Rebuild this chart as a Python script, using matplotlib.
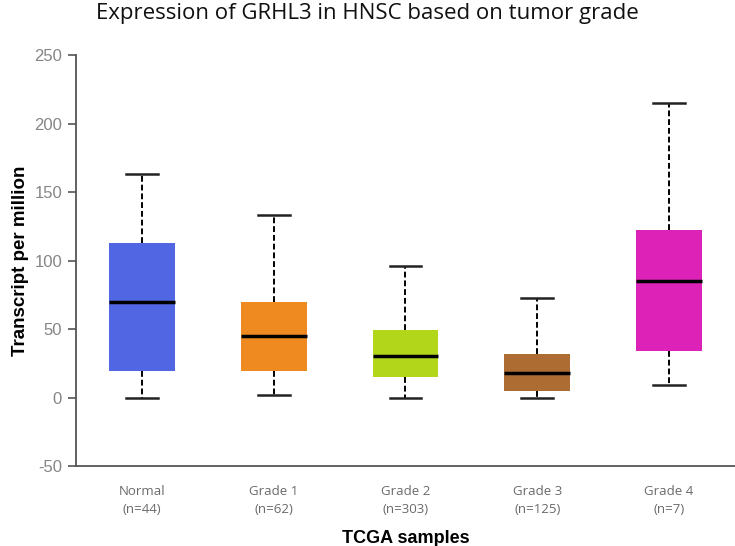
import matplotlib
matplotlib.use('Agg')
import matplotlib.pyplot as plt

plt.rcParams['axes.unicode_minus'] = False

groups = ['Normal', 'Grade 1', 'Grade 2', 'Grade 3', 'Grade 4']
counts = [44, 62, 303, 125, 7]
whislo = [0, 2, 0, 0, 9]
q1 = [19, 19, 15, 5, 34]
med = [70, 45, 30, 18, 85]
q3 = [113, 70, 49, 32, 122]
whishi = [163, 133, 96, 73, 215]
colors = ['#5166e2', '#ee8a1f', '#b1d61a', '#ad6c32', '#dd23b7']

stats = []
for i, g in enumerate(groups):
    stats.append({'label': '%s\n(n=%d)' % (g, counts[i]),
                  'whislo': whislo[i], 'q1': q1[i], 'med': med[i],
                  'q3': q3[i], 'whishi': whishi[i], 'fliers': []})

fig = plt.figure(figsize=(7.35, 5.46), dpi=100)
ax = fig.add_axes([0.1034, 0.1465, 0.8966, 0.7527])

bp = ax.bxp(stats, positions=range(1, 6), widths=0.5, patch_artist=True,
            showfliers=False, capwidths=0.24,
            boxprops=dict(linewidth=0),
            medianprops=dict(color='black', linewidth=2.5),
            whiskerprops=dict(color='black', linewidth=1.4, linestyle=(0, (3, 1.5))),
            capprops=dict(color='#222222', linewidth=1.8))
for patch, c in zip(bp['boxes'], colors):
    patch.set_facecolor(c)
    patch.set_edgecolor(c)

ax.set_xlim(0.5, 5.5)
ax.set_ylim(-50, 250)
ax.set_yticks(range(-50, 251, 50))

for s in ['top', 'right']:
    ax.spines[s].set_visible(False)
for s in ['left', 'bottom']:
    ax.spines[s].set_color('#555555')
    ax.spines[s].set_linewidth(1.3)

ax.tick_params(axis='y', direction='out', length=6, width=1.2, color='#555555',
               labelcolor='#858585', labelsize=12, pad=4)
ax.tick_params(axis='x', length=0, pad=14, labelcolor='#6a6a6a', labelsize=9.5)
for lab in ax.get_yticklabels():
    lab.set_family('Liberation Sans')
for lab in ax.get_xticklabels():
    lab.set_family('Open Sans')
    lab.set_linespacing(1.5)

ax.set_ylabel('Transcript per million', fontsize=13.5, fontweight='bold',
              family='Liberation Sans', labelpad=4)
ax.set_xlabel('TCGA samples', fontsize=13, fontweight='bold',
              family='Liberation Sans', labelpad=10)
fig.suptitle('Expression of GRHL3 in HNSC based on tumor grade', fontsize=16,
             family='Open Sans', x=0.5, y=0.995, color='#111111')

fig.savefig('out.png', dpi=100)
